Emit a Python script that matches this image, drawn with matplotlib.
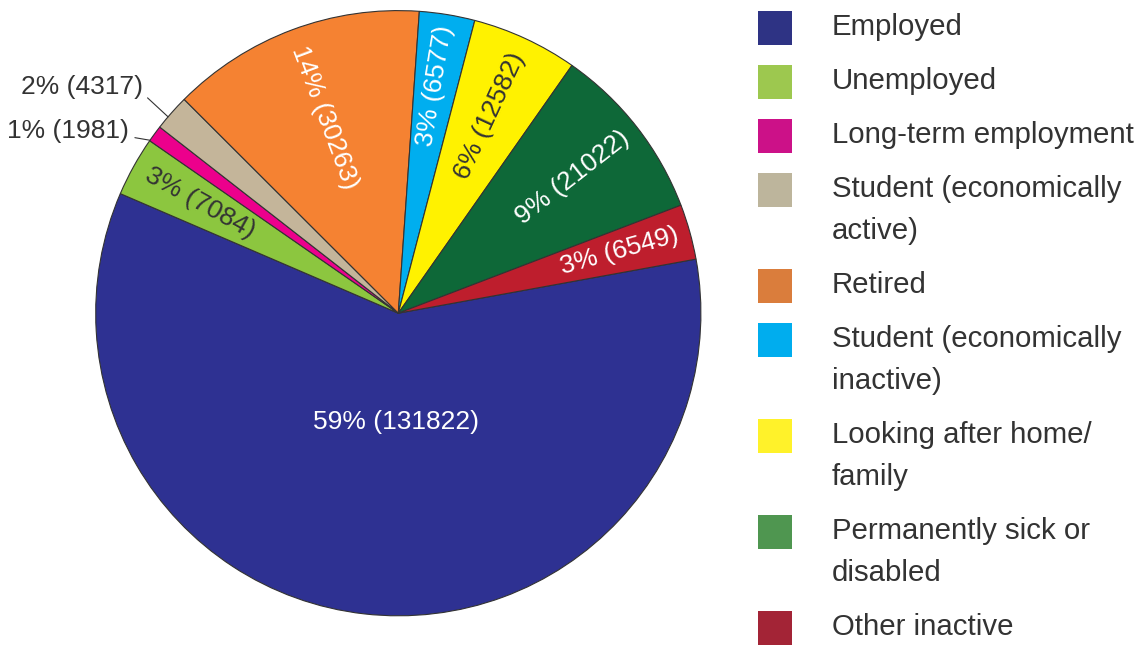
import numpy as np
import matplotlib
matplotlib.use('Agg')
import matplotlib.pyplot as plt
from matplotlib.patches import Rectangle

plt.rcParams['font.family'] = ['Liberation Sans', 'DejaVu Sans']

# economic activity counts
categories = ['Employed', 'Unemployed', 'Long-term employment',
              'Student (economically\nactive)', 'Retired',
              'Student (economically\ninactive)', 'Looking after home/\nfamily',
              'Permanently sick or\ndisabled', 'Other inactive']
counts = [131822, 7084, 1981, 4317, 30263, 6577, 12582, 21022, 6549]
percents = [59, 3, 1, 2, 14, 3, 6, 9, 3]

pie_colors = ['#2E3192', '#8CC63F', '#EC008C', '#C4B59A', '#F58232',
              '#00AEEF', '#FFF200', '#0E6838', '#BE1E2D']
legend_colors = ['#2E3384', '#9DC84F', '#CC1188', '#BDB59C', '#DA7D3C',
                 '#00ADEE', '#FFF22A', '#4F9650', '#A32436']
label_colors = ['white', '#333333', None, None, 'white', 'white', '#333333', 'white', 'white']
# radial position of the in-slice labels (fraction of radius)
label_radius = [0.36, 0.75, 1.074, 1.127, 0.69, 0.76, 0.72, 0.73, 0.76]

W, H = 1138, 648
fig = plt.figure(figsize=(W / 100, H / 100), dpi=100)

cx, cy, R = 398.3, 313.2, 302.6
ax = fig.add_axes([(cx - R) / W, (H - cy - R) / H, 2 * R / W, 2 * R / H])
wedges, _ = ax.pie(counts, colors=pie_colors, startangle=10.3, counterclock=False,
                   radius=1.0, wedgeprops=dict(edgecolor='#333333', linewidth=0.8))
ax.set_xlim(-1, 1)
ax.set_ylim(-1, 1)
ax.set_aspect('equal')
ax.axis('off')

for i, w in enumerate(wedges):
    mid = (w.theta1 + w.theta2) / 2
    mid = (mid + 180) % 360 - 180
    txt = f'{percents[i]}% ({counts[i]})'
    r = label_radius[i]
    if i == 0:
        a = np.deg2rad(-91)
        ax.text(r * np.cos(a), r * np.sin(a), txt, color='white', fontsize=19,
                ha='center', va='center')
        continue
    if label_colors[i] is None:
        # small slices get an outside label with a leader line
        ta = np.deg2rad(mid + (2.2 if i == 2 else 0))
        pa = np.deg2rad(mid + (1.5 if i == 2 else 1))
        ax.annotate(txt, xy=(np.cos(pa), np.sin(pa)),
                    xytext=(r * np.cos(ta), r * np.sin(ta)),
                    ha='right', va='center', fontsize=19, color='#333333',
                    arrowprops=dict(arrowstyle='-', color='#333333', lw=0.8,
                                    relpos=(1.0, 0.25), shrinkA=2, shrinkB=0))
        continue
    a = np.deg2rad(mid)
    rot = mid if -90 < mid < 90 else mid - 180
    ax.text(r * np.cos(a), r * np.sin(a), txt, color=label_colors[i], fontsize=19,
            ha='center', va='center', rotation=rot, rotation_mode='anchor')

# legend on the right
y = 28
for lab, col in zip(categories, legend_colors):
    fig.add_artist(Rectangle((758 / W, 1 - (y + 17) / H), 34 / W, 34 / H,
                             transform=fig.transFigure, facecolor=col, edgecolor='none'))
    for k, line in enumerate(lab.split('\n')):
        fig.text(832 / W, 1 - (y + 7 + 42 * k) / H, line, fontsize=21.2,
                 color='#333333', ha='left', va='baseline')
    y += 54 + 42 * lab.count('\n')

fig.savefig('out.png', dpi=100)
